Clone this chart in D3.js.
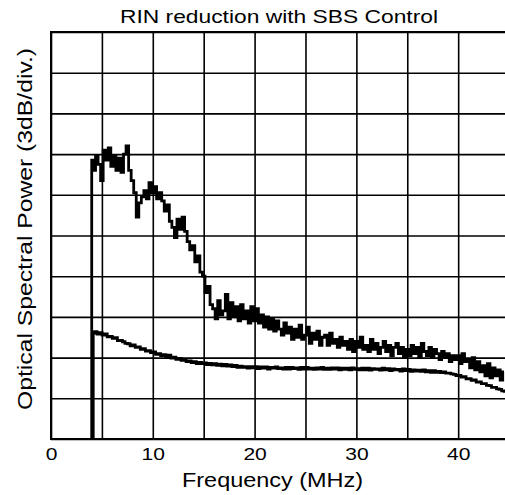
<!DOCTYPE html>
<html>
<head>
<meta charset="utf-8">
<script src="https://cdn.jsdelivr.net/npm/d3@7"></script>
<style>
  html, body { margin: 0; padding: 0; background: #fff; }
  svg { display: block; }
  text { font-family: "Liberation Sans", Arial, Helvetica, sans-serif; fill: #000; }
</style>
</head>
<body>
<div id="chart"></div>
<script>
// ---------- data ----------
const titleText = "RIN reduction with SBS Control";
const xLabelText = "Frequency (MHz)";
const yLabelText = "Optical Spectral Power (3dB/div.)";

const xTickLabels = [0, 10, 20, 30, 40];      // labelled ticks (MHz)
const xGridStep = 5;                            // vertical grid every 5 MHz
const yDivisions = [0, 1, 2, 3, 4, 5, 6, 7, 8, 9, 10]; // 3 dB per division

const traceStartMHz = 4.0;   // first sample of both traces
const traceStepMHz = 0.25;   // spectrum analyser sample spacing
const traceFloor = 0;        // traces rise from the bottom of the screen at the start

// Upper trace, in divisions (4 samples per MHz, rows start at 4, 5, 6 ... MHz)
const upperTrace = [
  6.85, 6.60, 6.95, 6.75,
  6.35, 7.10, 6.85, 7.15,
  6.70, 6.95, 6.60, 6.90,
  6.55, 7.00, 7.20, 6.60,
  6.35, 6.05, 5.45, 5.80,
  5.95, 6.10, 5.90, 6.30,
  6.05, 6.20, 5.90, 6.05,
  5.85, 5.60, 5.75, 5.35,
  5.20, 4.95, 5.40, 5.15,
  5.45, 5.10, 4.85, 4.65,
  4.75, 4.35, 4.50, 4.10,
  4.00, 3.60, 3.75, 3.30,
  3.20, 2.95, 3.40, 3.05,
  3.15, 3.55, 2.95, 3.35,
  3.00, 3.25, 2.90, 3.30,
  2.95, 3.15, 2.85, 3.25,
  2.90, 3.20, 2.85, 3.05,
  2.75, 3.00, 2.70, 2.95,
  2.65, 2.90, 2.70, 2.55,
  2.85, 2.60, 2.75, 2.45,
  2.70, 2.50, 2.80, 2.45,
  2.55, 2.75, 2.35, 2.60,
  2.45, 2.65, 2.30, 2.50,
  2.55, 2.30, 2.60, 2.35,
  2.45, 2.25, 2.50, 2.30,
  2.40, 2.20, 2.45, 2.15,
  2.40, 2.25, 2.50, 2.20,
  2.30, 2.15, 2.45, 2.20,
  2.35, 2.10, 2.25, 2.40,
  2.15, 2.30, 2.05, 2.25,
  2.35, 2.10, 2.25, 2.00,
  2.20, 2.05, 2.30, 2.10,
  2.25, 2.00, 2.35, 2.15,
  2.05, 2.25, 2.00, 2.20,
  2.10, 1.95, 2.15, 2.00,
  2.10, 1.90, 2.05, 1.95,
  2.05, 1.85, 2.10, 1.90,
  1.95, 1.75, 2.00, 1.70,
  1.90, 1.65, 1.80, 1.55,
  1.85, 1.50, 1.75, 1.55,
  1.70, 1.45, 1.65
];

// Lower trace, in divisions
const lowerTrace = [
  2.60, 2.64, 2.58, 2.61,
  2.55, 2.58, 2.51, 2.52,
  2.47, 2.49, 2.42, 2.42,
  2.39, 2.35, 2.34, 2.29,
  2.31, 2.25, 2.26, 2.20,
  2.22, 2.16, 2.17, 2.12,
  2.14, 2.08, 2.10, 2.05,
  2.07, 2.02, 2.06, 1.99,
  2.01, 1.96, 1.98, 1.93,
  1.95, 1.90, 1.92, 1.88,
  1.90, 1.85, 1.88, 1.85,
  1.87, 1.83, 1.86, 1.82,
  1.85, 1.81, 1.84, 1.80,
  1.83, 1.79, 1.82, 1.78,
  1.81, 1.76, 1.79, 1.76,
  1.78, 1.74, 1.78, 1.75,
  1.78, 1.73, 1.77, 1.74,
  1.77, 1.72, 1.76, 1.74,
  1.77, 1.73, 1.75, 1.72,
  1.76, 1.72, 1.76, 1.73,
  1.75, 1.71, 1.76, 1.72,
  1.76, 1.72, 1.74, 1.71,
  1.75, 1.72, 1.76, 1.71,
  1.74, 1.71, 1.75, 1.72,
  1.75, 1.70, 1.74, 1.71,
  1.74, 1.70, 1.75, 1.71,
  1.73, 1.70, 1.74, 1.70,
  1.74, 1.69, 1.73, 1.71,
  1.72, 1.69, 1.74, 1.70,
  1.73, 1.68, 1.72, 1.70,
  1.71, 1.67, 1.72, 1.68,
  1.71, 1.66, 1.70, 1.67,
  1.69, 1.66, 1.70, 1.65,
  1.68, 1.64, 1.68, 1.64,
  1.66, 1.63, 1.65, 1.62,
  1.62, 1.60, 1.59, 1.56,
  1.56, 1.52, 1.53, 1.48,
  1.48, 1.44, 1.45, 1.40,
  1.40, 1.36, 1.36, 1.32,
  1.31, 1.27, 1.27, 1.23,
  1.22, 1.18, 1.17
];

// ---------- layout ----------
const W = 505, H = 495;
const plot = { left: 51, top: 32, right: 505, bottom: 439 };
const xMaxMHz = 44.6;

const svg = d3.select("#chart").append("svg")
  .attr("width", W).attr("height", H);

const x = d3.scaleLinear().domain([0, xMaxMHz]).range([plot.left, plot.right]);
const y = d3.scaleLinear().domain([0, 10]).range([plot.bottom, plot.top]);

const gridX = d3.range(0, xMaxMHz, xGridStep);
const gridColor = "#000";
const gridW = 1.6;

svg.append("g")
  .attr("transform", `translate(0,${plot.top})`)
  .call(d3.axisTop(x).tickValues(gridX).tickSize(-(plot.bottom - plot.top)).tickFormat(""))
  .call(g => g.select(".domain").remove())
  .call(g => g.selectAll("line").attr("stroke", gridColor).attr("stroke-width", gridW));

svg.append("g")
  .attr("transform", `translate(${plot.left},0)`)
  .call(d3.axisLeft(y).tickValues(yDivisions).tickSize(-(plot.right - plot.left)).tickFormat(""))
  .call(g => g.select(".domain").remove())
  .call(g => g.selectAll("line").attr("stroke", gridColor).attr("stroke-width", gridW));

// x tick labels
const xAxis = svg.append("g")
  .attr("transform", `translate(0,${plot.bottom})`)
  .call(d3.axisBottom(x).tickValues(xTickLabels).tickSize(0).tickPadding(0).tickFormat(d3.format("d")))
  .call(g => g.select(".domain").remove());
xAxis.selectAll("text")
  .attr("y", 21)
  .attr("dy", 0)
  .style("font-size", "16.5px")
  .style("font-family", "'Liberation Sans', Arial, sans-serif")
  .attr("textLength", d => String(d).length * 11.7)
  .attr("lengthAdjust", "spacingAndGlyphs");

// traces
const line = d3.line()
  .x(d => x(d[0]))
  .y(d => y(d[1]))
  .curve(d3.curveStep);

function tracePoints(values) {
  const pts = [[traceStartMHz, traceFloor]];
  values.forEach((v, i) => pts.push([traceStartMHz + i * traceStepMHz, v]));
  return pts;
}

svg.append("clipPath").attr("id", "plotclip")
  .append("rect")
  .attr("x", plot.left).attr("y", plot.top)
  .attr("width", plot.right - plot.left).attr("height", plot.bottom - plot.top);

const traces = svg.append("g").attr("clip-path", "url(#plotclip)");

traces.append("path")
  .datum(tracePoints(lowerTrace))
  .attr("d", line)
  .attr("fill", "none")
  .attr("stroke", "#000")
  .attr("stroke-width", 2.8)
  .attr("transform", "translate(1.5,0)");

traces.append("path")
  .datum(tracePoints(upperTrace))
  .attr("d", line)
  .attr("fill", "none")
  .attr("stroke", "#000")
  .attr("stroke-width", 2.8);

// frame (top, left, bottom)
svg.append("path")
  .attr("d", d3.line()([[x.range()[1], y(10)], [x(0), y(10)], [x(0), y(0)], [x.range()[1], y(0)]]))
  .attr("fill", "none")
  .attr("stroke", "#000")
  .attr("stroke-width", 2);

// title
svg.append("text")
  .attr("x", 279).attr("y", 23)
  .attr("text-anchor", "middle")
  .style("font-size", "19px")
  .attr("textLength", 318)
  .attr("lengthAdjust", "spacingAndGlyphs")
  .text(titleText);

// x label
svg.append("text")
  .attr("x", 272.5).attr("y", 487)
  .attr("text-anchor", "middle")
  .style("font-size", "20px")
  .attr("textLength", 181)
  .attr("lengthAdjust", "spacingAndGlyphs")
  .text(xLabelText);

// y label
svg.append("text")
  .attr("transform", "translate(32,229) rotate(-90)")
  .attr("text-anchor", "middle")
  .style("font-size", "20px")
  .attr("textLength", 362)
  .attr("lengthAdjust", "spacingAndGlyphs")
  .text(yLabelText);
</script>
</body>
</html>
